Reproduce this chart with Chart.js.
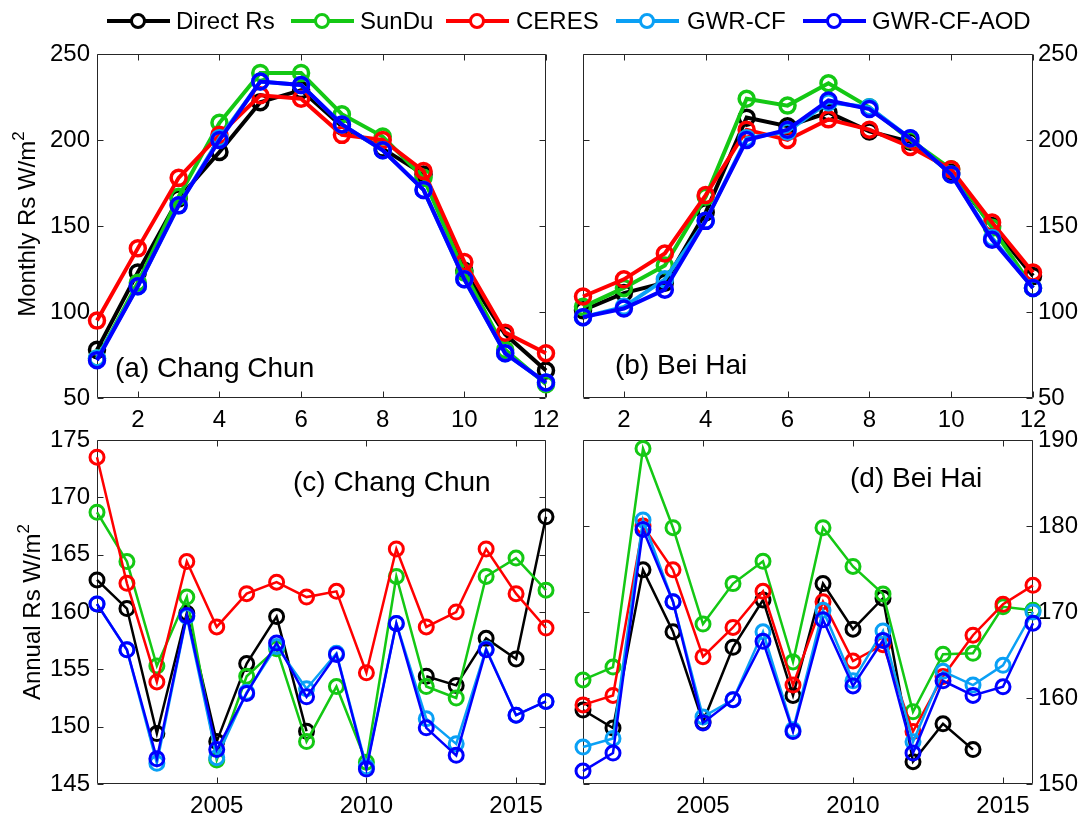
<!DOCTYPE html>
<html><head><meta charset="utf-8">
<script src="https://cdn.jsdelivr.net/npm/chart.js@4/dist/chart.umd.min.js"></script>
<style>
html,body{margin:0;padding:0;background:#fff;}
#wrap{position:relative;width:1085px;height:816px;overflow:hidden;font-family:'Liberation Sans',Arial,Helvetica,sans-serif;color:#000;}
#wrap canvas{position:absolute;left:0;top:0;}
.t{position:absolute;white-space:nowrap;line-height:1;}
.ytitle{position:absolute;white-space:nowrap;line-height:1;font-size:24px;transform:translate(-50%,-50%) rotate(-90deg);}
.ytitle sup{font-size:17px;line-height:0;vertical-align:0;position:relative;top:-11px;}
.leg-line{position:absolute;height:4px;}
.leg-dot{position:absolute;width:10px;height:10px;border-radius:50%;border:3.5px solid;background:#fff;}
</style></head>
<body>
<div id="wrap">
  <canvas id="cA" width="1085" height="816"></canvas>
  <canvas id="cB" width="1085" height="816"></canvas>
  <canvas id="cC" width="1085" height="816"></canvas>
  <canvas id="cD" width="1085" height="816"></canvas>
  <div class="ytitle" style="left:27px;top:224px;">Monthly Rs W/m<sup>2</sup></div>
  <div class="ytitle" style="left:32px;top:612px;">Annual Rs W/m<sup>2</sup></div>
  <div class="t" style="left:115px;top:354px;font-size:28px;">(a) Chang Chun</div>
  <div class="t" style="left:615px;top:351px;font-size:28px;">(b) Bei Hai</div>
  <div class="t" style="left:293px;top:468px;font-size:28px;">(c) Chang Chun</div>
  <div class="t" style="left:850px;top:464px;font-size:28px;">(d) Bei Hai</div>
  <div id="legend"></div>
</div>
<script>
// ---------- data ----------
const seriesNames = ['Direct Rs', 'SunDu', 'CERES', 'GWR-CF', 'GWR-CF-AOD'];
const seriesColors = ['#000000', '#14c814', '#ff0000', '#0aa0f5', '#0000ff'];

const months = [1, 2, 3, 4, 5, 6, 7, 8, 9, 10, 11, 12];
const monthTicks = [2, 4, 6, 8, 10, 12];
const years = [2001, 2002, 2003, 2004, 2005, 2006, 2007, 2008, 2009, 2010, 2011, 2012, 2013, 2014, 2015, 2016];
const yearTicks = [2005, 2010, 2015];

const monthlyRsTicks = [50, 100, 150, 200, 250];
const ccAnnualTicks = [145, 150, 155, 160, 165, 170, 175];
const bhAnnualTicks = [150, 160, 170, 180, 190];

// (a) Chang Chun monthly
const ccMonDirect   = [78, 123, 166, 193, 222, 229, 208, 195, 180, 124, 87, 66];
const ccMonSunDu    = [73, 117, 167, 210, 239, 239, 215, 202, 178, 123, 78, 58];
const ccMonCERES    = [95, 137, 178, 203, 226, 224, 203, 200, 182, 129, 88, 76];
const ccMonGWRCF    = [73, 115, 162, 201, 234, 232, 209, 194, 171, 119, 76, 59];
const ccMonGWRCFAOD = [72, 115, 162, 200, 234, 232, 209, 194, 171, 119, 76, 59];

// (b) Bei Hai monthly
const bhMonDirect   = [101, 111, 117, 158, 213, 208, 216, 205, 199, 181, 150, 121];
const bhMonSunDu    = [103, 114, 127, 167, 224, 220, 233, 219, 200, 183, 149, 114];
const bhMonCERES    = [109, 119, 134, 168, 206, 200, 212, 206, 196, 183, 152, 123];
const bhMonGWRCF    = [97, 103, 119, 153, 201, 205, 222, 219, 201, 180, 143, 114];
const bhMonGWRCFAOD = [97, 102, 113, 153, 200, 206, 223, 218, 201, 180, 142, 114];

// (c) Chang Chun annual
const ccAnnDirect   = [162.8, 160.3, 149.4, 159.9, 148.7, 155.5, 159.6, 149.6, null, null, null, 154.4, 153.6, 157.7, 155.9, 168.3];
const ccAnnSunDu    = [168.7, 164.4, 155.3, 161.3, 147.1, 154.4, 156.8, 148.7, 153.5, 146.9, 163.1, 153.5, 152.5, 163.1, 164.7, 161.9];
const ccAnnCERES    = [173.5, 162.5, 153.9, 164.4, 158.7, 161.6, 162.6, 161.3, 161.8, 154.7, 165.5, 158.7, 160.0, 165.5, 161.6, 158.6];
const ccAnnGWRCF    = [160.7, 156.7, 146.8, 159.6, 147.3, 153.0, 157.0, 153.3, 156.4, 146.5, 159.0, 150.7, 148.5, 156.8, 151.0, 152.2];
const ccAnnGWRCFAOD = [160.7, 156.7, 147.2, 159.7, 148.0, 152.9, 157.3, 152.6, 156.3, 146.3, 159.0, 149.9, 147.5, 156.7, 151.0, 152.2];

// (d) Bei Hai annual
const bhAnnDirect   = [158.6, 156.5, 174.9, 167.7, 157.2, 165.9, 171.4, 160.3, 173.3, 168.0, 171.6, 152.6, 157.0, 154.0, null, null];
const bhAnnSunDu    = [162.1, 163.6, 189.0, 179.8, 168.6, 173.3, 175.9, 164.2, 179.8, 175.3, 172.1, 158.4, 165.1, 165.2, 170.6, 170.2];
const bhAnnCERES    = [159.2, 160.3, 180.0, 174.9, 164.8, 168.2, 172.4, 161.5, 171.2, 164.3, 166.2, 156.1, 162.5, 167.3, 170.9, 173.1];
const bhAnnGWRCF    = [154.3, 155.3, 180.7, 171.2, 157.8, 159.8, 167.7, 156.3, 170.2, 162.0, 167.8, 154.9, 163.1, 161.5, 163.8, 170.0];
const bhAnnGWRCFAOD = [151.5, 153.6, 179.6, 171.2, 157.1, 159.8, 166.6, 156.1, 169.1, 161.4, 166.7, 153.6, 162.0, 160.3, 161.3, 168.7];

// ---------- drawing ----------
Chart.defaults.font.family = "'Liberation Sans', Arial, Helvetica, sans-serif";
Chart.defaults.font.size = 24;
Chart.defaults.color = '#000';

const boxPlugin = {
  id: 'matlabBox',
  beforeDatasetsDraw(chart) {
    const {ctx, chartArea: a, scales} = chart;
    const L = Math.round(a.left) + 0.5, R = Math.round(a.right) - 0.5;
    const T = Math.round(a.top) + 0.5, B = Math.round(a.bottom) - 0.5;
    ctx.save();
    ctx.strokeStyle = '#262626';
    ctx.lineWidth = 1;
    ctx.beginPath();
    ctx.rect(L, T, R - L, B - T);
    const tl = 6;
    scales.x.ticks.forEach(t => {
      const px = Math.round(scales.x.getPixelForValue(t.value)) + 0.5;
      ctx.moveTo(px, B); ctx.lineTo(px, B - tl);
      ctx.moveTo(px, T); ctx.lineTo(px, T + tl);
    });
    scales.y.ticks.forEach(t => {
      const py = Math.round(scales.y.getPixelForValue(t.value)) + 0.5;
      ctx.moveTo(L, py); ctx.lineTo(L + tl, py);
      ctx.moveTo(R, py); ctx.lineTo(R - tl, py);
    });
    ctx.stroke();
    ctx.restore();
  }
};

function makePanel(id, xs, seriesVals, o) {
  const datasets = seriesVals.map((vals, i) => ({
    label: seriesNames[i],
    data: xs.map((x, j) => ({x: x, y: vals[j]})),
    borderColor: seriesColors[i],
    backgroundColor: seriesColors[i],
    pointBackgroundColor: 'rgba(0,0,0,0)',
    pointBorderColor: seriesColors[i],
    pointRadius: o.ptR,
    pointBorderWidth: o.ptBW,
    pointStyle: 'circle',
    borderWidth: o.lineW,
    tension: 0,
    spanGaps: false,
    clip: false,
    order: 5 - i
  }));
  return new Chart(document.getElementById(id), {
    type: 'line',
    data: {datasets},
    plugins: [boxPlugin],
    options: {
      responsive: false,
      animation: false,
      events: [],
      layout: {padding: o.pad},
      plugins: {legend: {display: false}, tooltip: {enabled: false}, title: {display: false}},
      scales: {
        x: {
          type: 'linear', position: 'bottom', min: o.xMin, max: o.xMax,
          grid: {display: false, drawTicks: false}, border: {display: false},
          ticks: {padding: 8, autoSkip: false, maxRotation: 0, color: '#000', callback: v => String(v)},
          afterBuildTicks: s => { s.ticks = o.xTicks.map(v => ({value: v})); },
          afterFit: s => { s.height = 32; }
        },
        y: {
          type: 'linear', position: o.yPos, min: o.yMin, max: o.yMax,
          grid: {display: false, drawTicks: false}, border: {display: false},
          ticks: {padding: o.yPos === 'left' ? 7 : 5, autoSkip: false, color: '#000', callback: v => String(v)},
          afterBuildTicks: s => { s.ticks = o.yTicks.map(v => ({value: v})); },
          afterFit: s => { s.width = 50; }
        }
      }
    }
  });
}

makePanel('cA', months, [ccMonDirect, ccMonSunDu, ccMonCERES, ccMonGWRCF, ccMonGWRCFAOD], {
  xMin: 1, xMax: 12, xTicks: monthTicks, yMin: 50, yMax: 250, yTicks: monthlyRsTicks, yPos: 'left',
  pad: {left: 47, top: 54, right: 539, bottom: 386}, lineW: 4, ptR: 7.5, ptBW: 3.5
});
makePanel('cB', months, [bhMonDirect, bhMonSunDu, bhMonCERES, bhMonGWRCF, bhMonGWRCFAOD], {
  xMin: 1, xMax: 12, xTicks: monthTicks, yMin: 50, yMax: 250, yTicks: monthlyRsTicks, yPos: 'right',
  pad: {left: 583, top: 54, right: 2, bottom: 386}, lineW: 4, ptR: 7.5, ptBW: 3.5
});
makePanel('cC', years, [ccAnnDirect, ccAnnSunDu, ccAnnCERES, ccAnnGWRCF, ccAnnGWRCFAOD], {
  xMin: 2001, xMax: 2016, xTicks: yearTicks, yMin: 145, yMax: 175, yTicks: ccAnnualTicks, yPos: 'left',
  pad: {left: 47, top: 440, right: 539, bottom: 0}, lineW: 2.5, ptR: 7, ptBW: 3
});
makePanel('cD', years, [bhAnnDirect, bhAnnSunDu, bhAnnCERES, bhAnnGWRCF, bhAnnGWRCFAOD], {
  xMin: 2001, xMax: 2016, xTicks: yearTicks, yMin: 150, yMax: 190, yTicks: bhAnnualTicks, yPos: 'right',
  pad: {left: 583, top: 440, right: 2, bottom: 0}, lineW: 2.5, ptR: 7, ptBW: 3
});

// legend (HTML)
const legLineX = [107, 291, 446, 616, 803];
const legTextX = [176, 360, 516, 687, 872];
const leg = document.getElementById('legend');
seriesNames.forEach((name, i) => {
  const cy = 21;
  const line = document.createElement('div');
  line.className = 'leg-line';
  line.style.cssText = `left:${legLineX[i]}px;top:${cy - 2}px;width:63px;background:${seriesColors[i]};`;
  leg.appendChild(line);
  const dot = document.createElement('div');
  dot.className = 'leg-dot';
  dot.style.cssText = `left:${legLineX[i] + 31.5 - 8.5}px;top:${cy - 8.5}px;border-color:${seriesColors[i]};`;
  leg.appendChild(dot);
  const tx = document.createElement('div');
  tx.className = 't';
  tx.style.cssText = `left:${legTextX[i]}px;top:${cy - 12}px;font-size:24px;`;
  tx.textContent = name;
  leg.appendChild(tx);
});
</script>
</body></html>
